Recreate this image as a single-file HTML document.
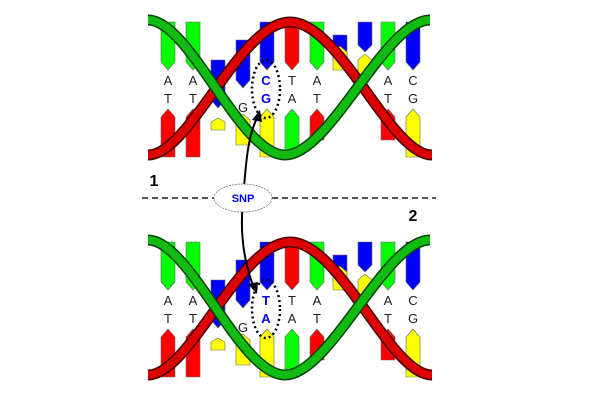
<!DOCTYPE html>
<html><head><style>html,body{margin:0;padding:0;background:#fff;width:600px;height:400px;overflow:hidden}</style></head>
<body>
<svg width="600" height="400" viewBox="0 0 600 400" xmlns="http://www.w3.org/2000/svg" font-family="Liberation Sans, sans-serif">
<defs>
<g id="helix">
 <g stroke="#666" stroke-width="0.6">
 <polygon points="161,22 175,22 175,62 168,70 161,62" fill="#0f0"/>
 <polygon points="186,22 200,22 200,62 193,70 186,62" fill="#0f0"/>
 <polygon points="211,60 225,60 225,100 218,108 211,100" fill="#00f"/>
 <polygon points="236,40 250,40 250,80 243,88 236,80" fill="#00f"/>
 <polygon points="260,22 274,22 274,62 267,70 260,62" fill="#00f"/>
 <polygon points="285,22 299,22 299,62 292,70 285,62" fill="#f00"/>
 <polygon points="310,22 324,22 324,62 317,70 310,62" fill="#0f0"/>
 <polygon points="333,35 347,35 347,62 340,70 333,62" fill="#00f"/>
 <polygon points="358,22 372,22 372,45 365,52 358,45" fill="#00f"/>
 <polygon points="381,22 395,22 395,62 388,70 381,62" fill="#0f0"/>
 <polygon points="406,22 420,22 420,62 413,70 406,62" fill="#00f"/>
 <polygon points="161,157 175,157 175,117 168,109 161,117" fill="#f00"/>
 <polygon points="186,157 200,157 200,117 193,109 186,117" fill="#f00"/>
 <polygon points="211,130 225,130 225,122 218,118 211,122" fill="#ff0"/>
 <polygon points="236,145 250,145 250,120 243,114 236,120" fill="#ff0"/>
 <polygon points="260,157 274,157 274,117 267,109 260,117" fill="#ff0"/>
 <polygon points="285,157 299,157 299,117 292,109 285,117" fill="#0f0"/>
 <polygon points="310,140 324,140 324,117 317,109 310,117" fill="#f00"/>
 <polygon points="333,70 347,70 347,52 340,46 333,52" fill="#ff0"/>
 <polygon points="358,75 372,75 372,60 365,54 358,60" fill="#ff0"/>
 <polygon points="381,140 395,140 395,117 388,109 381,117" fill="#f00"/>
 <polygon points="406,157 420,157 420,117 413,109 406,117" fill="#ff0"/>
 </g>
 <path d="M148,155 C190,155 240,22 290,22 S390,155 432,155" fill="none" stroke="#400" stroke-width="11"/>
 <path d="M148,155 C190,155 240,22 290,22 S390,155 432,155" fill="none" stroke="#d00" stroke-width="8"/>
 <path d="M148,20 C190,20 240,155 285,155 S385,20 430,20" fill="none" stroke="#040" stroke-width="11"/>
 <path d="M148,20 C190,20 240,155 285,155 S385,20 430,20" fill="none" stroke="#1b1" stroke-width="8"/>
</g>
</defs>

<use href="#helix"/>
<use href="#helix" y="220"/>

<g font-size="13" fill="#222" text-anchor="middle">
 <text x="168" y="85">A</text><text x="193" y="85">A</text><text x="292" y="85">T</text><text x="317" y="85">A</text><text x="388" y="85">A</text><text x="413" y="85">C</text>
 <text x="168" y="103">T</text><text x="193" y="103">T</text><text x="243" y="112">G</text><text x="292" y="103">A</text><text x="317" y="103">T</text><text x="388" y="103">T</text><text x="413" y="103">G</text>
 <text x="168" y="305">A</text><text x="193" y="305">A</text><text x="292" y="305">T</text><text x="317" y="305">A</text><text x="388" y="305">A</text><text x="413" y="305">C</text>
 <text x="168" y="323">T</text><text x="193" y="323">T</text><text x="243" y="332">G</text><text x="292" y="323">A</text><text x="317" y="323">T</text><text x="388" y="323">T</text><text x="413" y="323">G</text>
</g>
<g font-size="13" font-weight="bold" fill="#00f" text-anchor="middle">
 <text x="266" y="85">C</text><text x="266" y="103">G</text>
 <text x="266" y="305">T</text><text x="266" y="323">A</text>
</g>
<g fill="none" stroke="#000" stroke-width="2.5" stroke-dasharray="2,3">
 <ellipse cx="266" cy="89" rx="14" ry="29"/>
 <ellipse cx="266" cy="309" rx="14" ry="29"/>
</g>

<line x1="142" y1="198" x2="436" y2="198" stroke="#555" stroke-width="2" stroke-dasharray="6,4"/>
<path d="M254,288 C243,260 240,230 243,200 C246,160 248,135 258,116" fill="none" stroke="#000" stroke-width="2"/>
<polygon points="260,110 252,120 262,122" fill="#000"/>
<polygon points="257,294 248,284 258,282" fill="#000"/>
<ellipse cx="243" cy="198" rx="29" ry="14" fill="#fff" stroke="#777" stroke-width="0.8" stroke-dasharray="2,1"/>
<text x="243" y="202" font-size="11" font-weight="bold" fill="#00f" text-anchor="middle">SNP</text>
<text x="154" y="186" font-size="16" font-weight="bold" text-anchor="middle">1</text>
<text x="413" y="221" font-size="16" font-weight="bold" text-anchor="middle">2</text>
</svg>
</body></html>
